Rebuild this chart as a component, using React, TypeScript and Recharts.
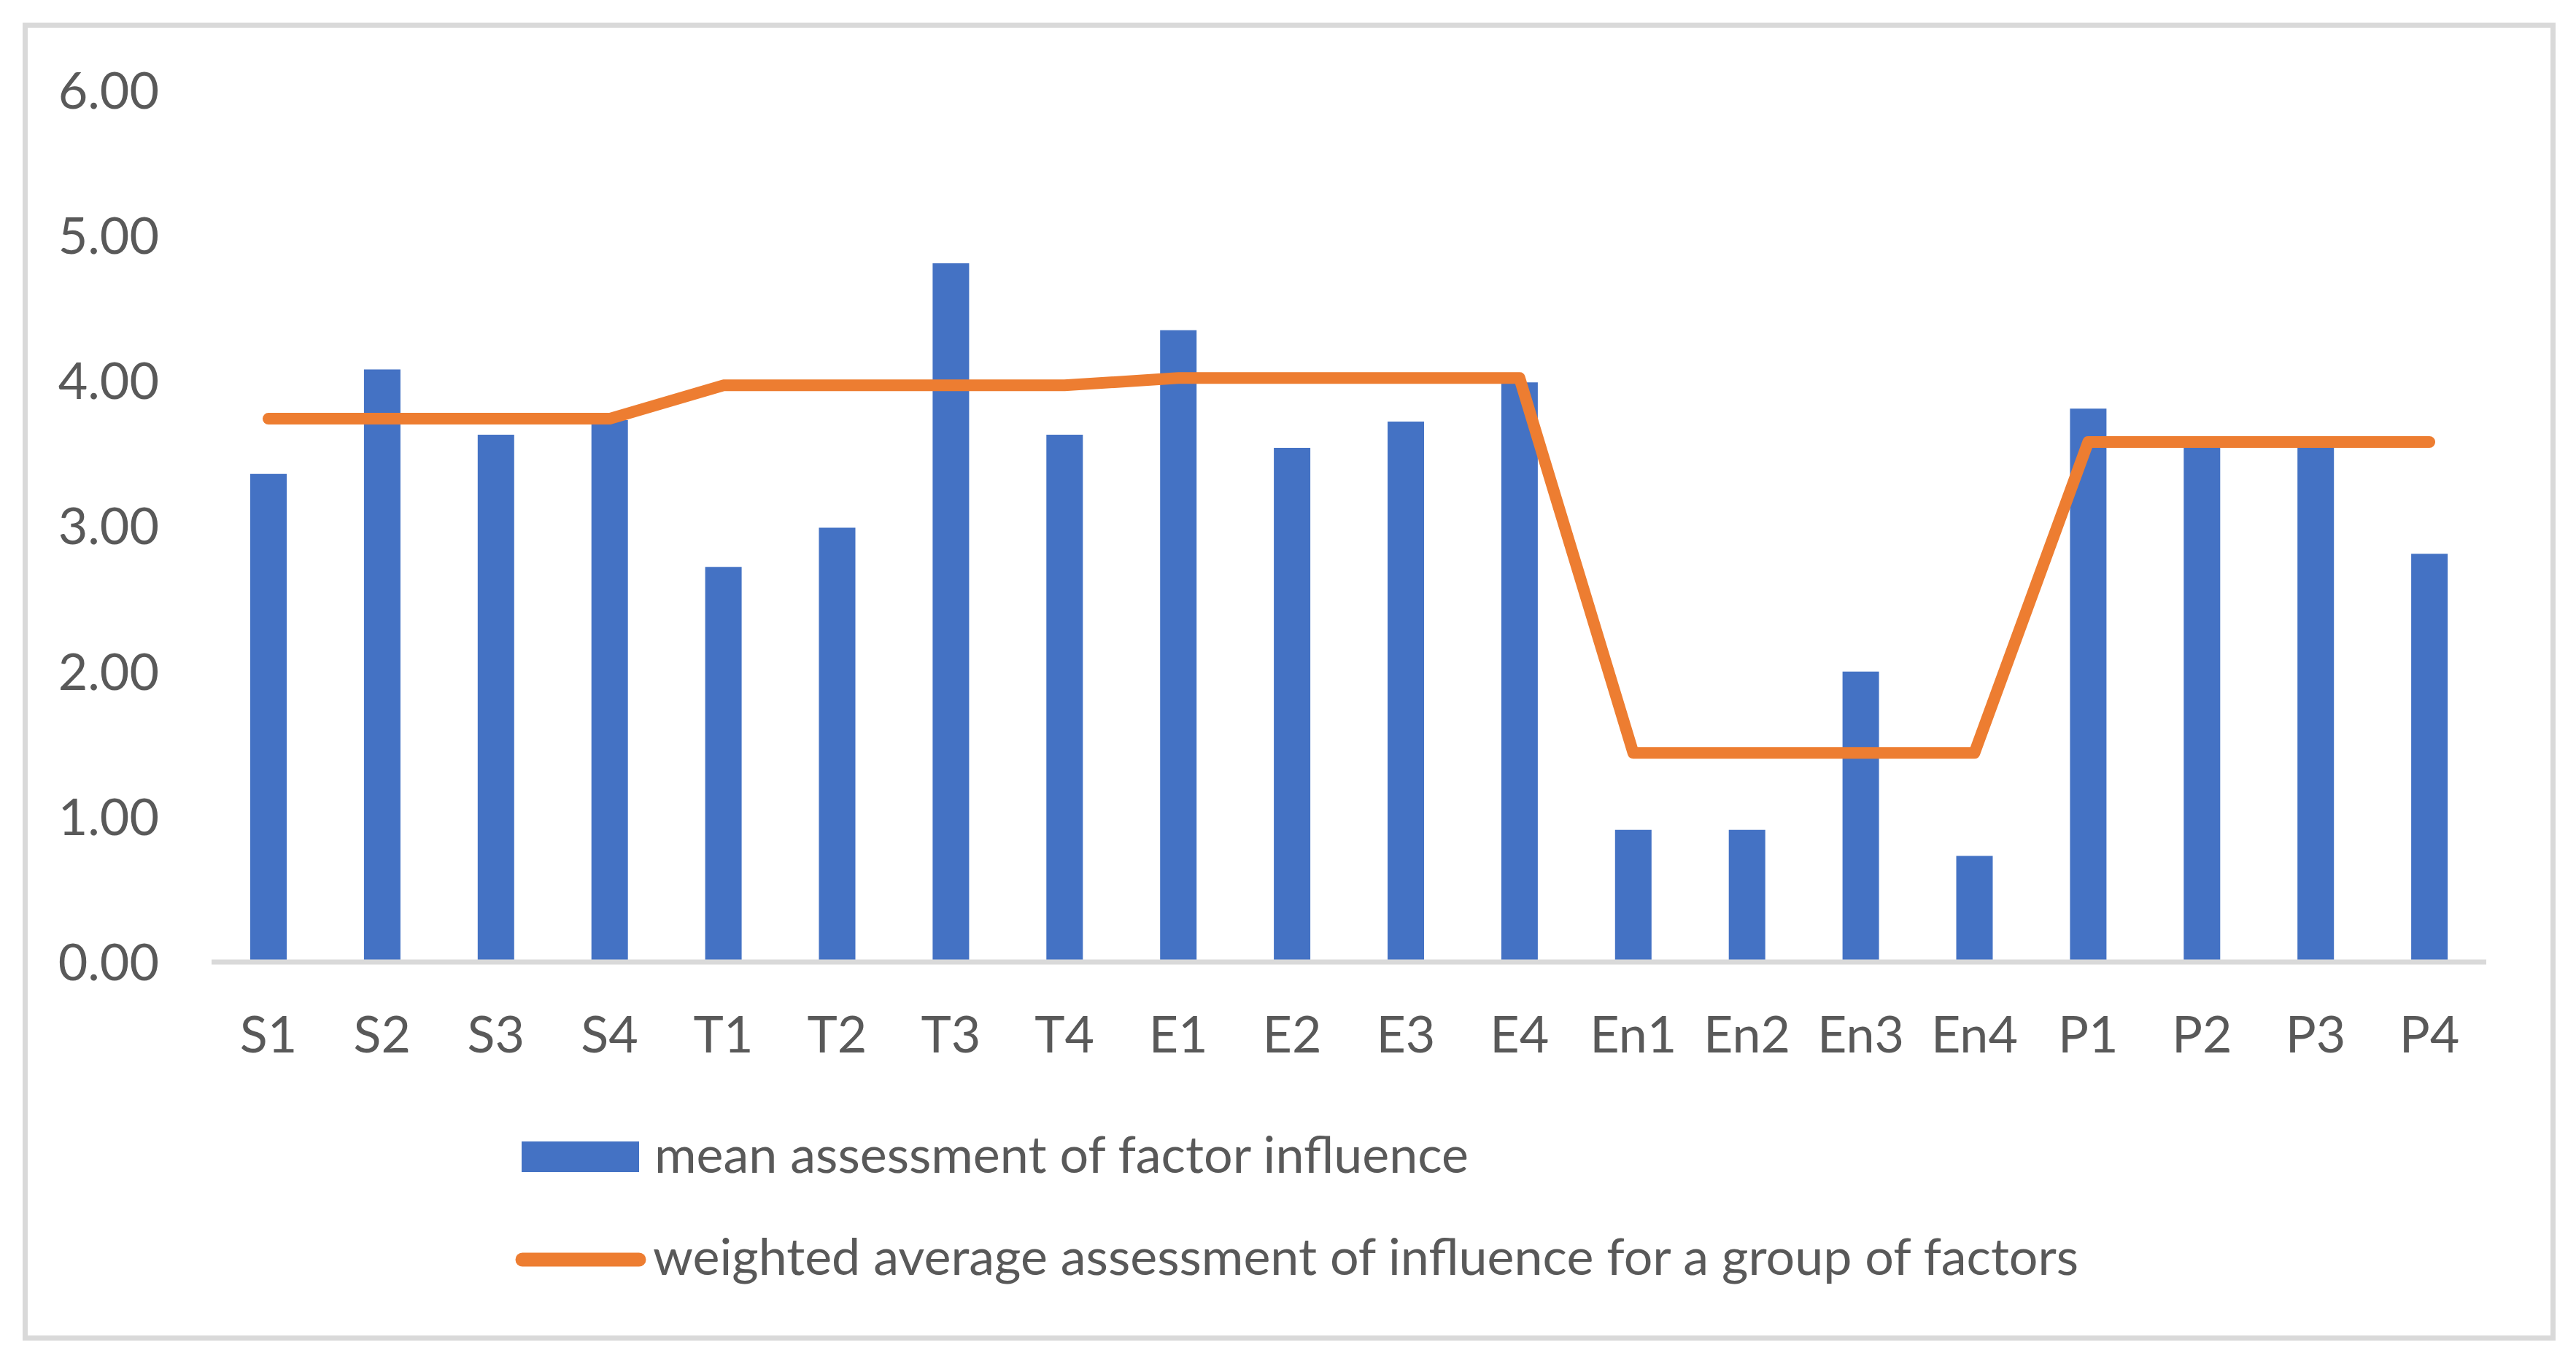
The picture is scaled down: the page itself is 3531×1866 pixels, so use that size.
import React from "react";
import { ComposedChart, Bar, Line, XAxis, YAxis } from "recharts";

const categories = [
  "S1", "S2", "S3", "S4",
  "T1", "T2", "T3", "T4",
  "E1", "E2", "E3", "E4",
  "En1", "En2", "En3", "En4",
  "P1", "P2", "P3", "P4",
];

const meanAssessment = [
  3.36, 4.08, 3.63, 3.73,
  2.72, 2.99, 4.81, 3.63,
  4.35, 3.54, 3.72, 3.99,
  0.91, 0.91, 2.0, 0.73,
  3.81, 3.58, 3.58, 2.81,
];

const groupAverage = [
  3.74, 3.74, 3.74, 3.74,
  3.97, 3.97, 3.97, 3.97,
  4.02, 4.02, 4.02, 4.02,
  1.44, 1.44, 1.44, 1.44,
  3.58, 3.58, 3.58, 3.58,
];

const yTicks = [0, 1, 2, 3, 4, 5, 6];

const MEAN_LABEL = "mean assessment of factor influence";
const AVG_LABEL = "weighted average assessment of influence for a group of factors";

const BLUE = "#4472C4";
const ORANGE = "#ED7D31";
const TEXT = "#595959";
const GRAY = "#D9D9D9";
const FONT = "Lato, 'Open Sans', sans-serif";
const FS = 70;

const data = categories.map((name, i) => ({
  name,
  mean: meanAssessment[i],
  avg: groupAverage[i],
}));

const W = 3458;
const H = 1793;

function LegendBox() {
  // drawn in chart coordinates (origin = inside of the border)
  return (
    <svg
      width={W}
      height={H}
      style={{ position: "absolute", left: 0, top: 0, pointerEvents: "none" }}
    >
      <rect x={677} y={1527} width={161} height={42} fill={BLUE} />
      <text x={859} y={1570} fill={TEXT} fontSize={FS} fontFamily={FONT}>
        {MEAN_LABEL}
      </text>
      <line
        x1={678}
        y1={1689}
        x2={838}
        y2={1689}
        stroke={ORANGE}
        strokeWidth={19}
        strokeLinecap="round"
      />
      <text x={857} y={1710} fill={TEXT} fontSize={FS} fontFamily={FONT}>
        {AVG_LABEL}
      </text>
    </svg>
  );
}

export default function App() {
  return (
    <div
      style={{
        position: "absolute",
        left: 31,
        top: 31,
        width: W + 14,
        height: H + 14,
        boxSizing: "border-box",
        border: `7px solid ${GRAY}`,
        background: "#fff",
      }}
    >
      <ComposedChart
        width={W}
        height={H}
        data={data}
        margin={{ top: 86, right: 88, left: 0, bottom: 0 }}
        barCategoryGap="34%"
      >
        <XAxis
          dataKey="name"
          height={512}
          interval={0}
          tickLine={false}
          tickSize={0}
          tickMargin={74}
          axisLine={{ stroke: GRAY, strokeWidth: 7 }}
          tick={{ fill: TEXT, fontSize: FS, fontFamily: FONT }}
        />
        <YAxis
          width={252}
          domain={[0, 6]}
          ticks={yTicks}
          tickFormatter={(v: number) => v.toFixed(2)}
          axisLine={false}
          tickLine={false}
          tickSize={0}
          tickMargin={72}
          tick={{ fill: TEXT, fontSize: FS, fontFamily: FONT }}
        />
        <Bar dataKey="mean" fill={BLUE} barSize={50} isAnimationActive={false} />
        <Line
          type="linear"
          dataKey="avg"
          stroke={ORANGE}
          strokeWidth={16}
          strokeLinejoin="round"
          strokeLinecap="round"
          dot={false}
          activeDot={false}
          isAnimationActive={false}
        />
      </ComposedChart>
      <LegendBox />
    </div>
  );
}
